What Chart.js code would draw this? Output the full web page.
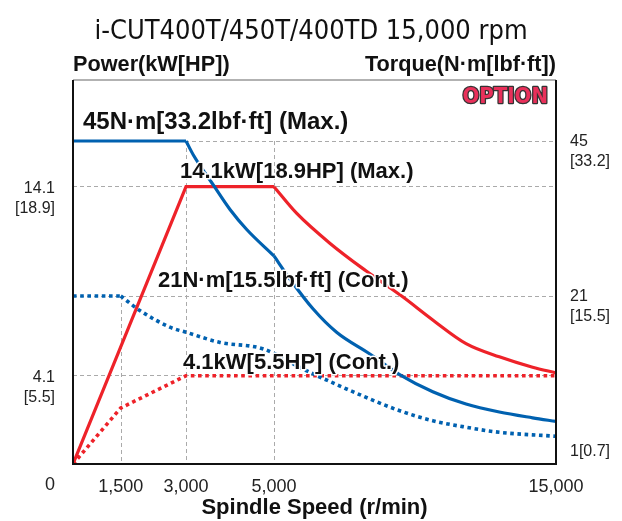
<!DOCTYPE html>
<html>
<head>
<meta charset="utf-8">
<script src="https://cdn.jsdelivr.net/npm/chart.js@4.4.1/dist/chart.umd.min.js"></script>
<style>
  html, body { margin: 0; padding: 0; background: #fff; }
  #wrap { width: 622px; height: 521px; }
</style>
</head>
<body>
<div id="wrap"><canvas id="spindleChart" width="622" height="521"></canvas></div>
<script>
// tick labels
var rpmTicks = [1500, 3000, 5000, 15000];
var powerTicks = [4.1, 14.1];
var powerTicksHp = [5.5, 18.9];
var torqueTicks = [1, 21, 45];
var torqueTicksLbf = [0.7, 15.5, 33.2];

// series
var maxTorqueRpm = [0, 3000, 3170, 3620, 4000, 4380, 5000, 5570, 6390, 7220, 8400, 9440, 10630, 11810, 12990, 14170, 15000];
var maxTorqueNm = [45, 45, 42.8, 38.2, 34.4, 31.3, 27.2, 23.6, 19.2, 16.0, 13.0, 10.2, 7.8, 6.1, 5.0, 4.2, 3.7];

var contTorqueRpm = [0, 1500, 1940, 2630, 3000, 3770, 4760, 6040, 8400, 9440, 10630, 11810, 12990, 15000];
var contTorqueNm = [21, 21, 19.0, 16.7, 16.0, 14.6, 13.7, 10.9, 6.8, 5.2, 3.8, 2.9, 2.2, 1.65];

var maxPowerRpm = [0, 3000, 5000, 5800, 6990, 8260, 9540, 10630, 11810, 12990, 14170, 15000];
var maxPowerKw = [0, 14.1, 14.1, 12.7, 11.1, 9.65, 8.3, 7.05, 5.8, 5.1, 4.55, 4.25];

var contPowerRpm = [0, 1500, 3000, 15000];
var contPowerKw = [0, 2.6, 4.1, 4.1];

var curveLabels = [
  "45N\u00B7m[33.2lbf\u00B7ft] (Max.)",
  "14.1kW[18.9HP] (Max.)",
  "21N\u00B7m[15.5lbf\u00B7ft] (Cont.)",
  "4.1kW[5.5HP] (Cont.)"
];

var RED = "#ee2229";
var BLUE = "#0061b0";
var FONT = "'Liberation Sans', Arial, sans-serif";

// the chart's axes are not linear: each one is drawn as straight pieces between stops
var axisStops = {
  x: [[0, 0], [1500, 0.0988], [3000, 0.234], [5000, 0.4161], [15000, 1]],
  yP: [[0, 0], [4.1, 0.2299], [14.1, 0.7221], [19.75, 1]],
  yT: [[0, 0], [1, 0.0599], [21, 0.4375], [45, 0.8411], [54.4, 1]]
};

class PiecewiseScale extends Chart.LinearScale {
  getPixelForValue(value) {
    var s = axisStops[this.id];
    var i = 1;
    while (i < s.length - 1 && value > s[i][0]) i++;
    var a = s[i - 1], b = s[i];
    var dec = a[1] + (value - a[0]) / (b[0] - a[0]) * (b[1] - a[1]);
    return this.getPixelForDecimal(dec);
  }
  getValueForPixel(pixel) {
    var dec = this.getDecimalForPixel(pixel);
    var s = axisStops[this.id];
    var i = 1;
    while (i < s.length - 1 && dec > s[i][1]) i++;
    var a = s[i - 1], b = s[i];
    return a[0] + (dec - a[1]) / (b[1] - a[1]) * (b[0] - a[0]);
  }
}
PiecewiseScale.id = "piecewise";
Chart.register(PiecewiseScale);

function zip(xs, ys, from, to) {
  return xs.map(function (x, i) { return { x: x, y: ys[i] }; }).slice(from, to);
}

// one curve can be several pieces: straight runs and smooth bends
function piece(label, points, axis, color, dotted, smooth) {
  return {
    label: label,
    data: points,
    yAxisID: axis,
    borderColor: color,
    borderWidth: dotted ? 3.6 : 3.2,
    borderDash: dotted ? [3.6, 3.6] : [],
    borderCapStyle: "butt",
    cubicInterpolationMode: smooth ? "monotone" : "default",
    tension: 0,
    pointRadius: 0
  };
}

// dashed grid lines for the speed ticks, starting at the torque level they mark
var gridTopTorque = [21, 45, 45, null];

var decor = {
  id: "decor",
  beforeDatasetsDraw: function (chart) {
    var c = chart.ctx, a = chart.chartArea;
    var xs = chart.scales.x, yt = chart.scales.yT;
    c.save();
    c.strokeStyle = "#aaa";
    c.lineWidth = 1;
    c.setLineDash([4, 3]);
    rpmTicks.forEach(function (v, i) {
      if (gridTopTorque[i] === null) return;
      var px = Math.round(xs.getPixelForValue(v)) + 0.5;
      c.beginPath();
      c.moveTo(px, yt.getPixelForValue(gridTopTorque[i]));
      c.lineTo(px, a.bottom);
      c.stroke();
    });
    c.restore();
  },
  afterDatasetsDraw: function (chart) {
    var c = chart.ctx, a = chart.chartArea;
    c.save();
    // frame
    c.strokeStyle = "#999";
    c.lineWidth = 1.5;
    c.beginPath();
    c.moveTo(a.left, a.top);
    c.lineTo(a.right, a.top);
    c.stroke();
    c.strokeStyle = "#111";
    c.lineWidth = 2;
    c.beginPath();
    c.moveTo(a.left, a.top);
    c.lineTo(a.left, a.bottom);
    c.lineTo(a.right, a.bottom);
    c.lineTo(a.right, a.top);
    c.stroke();

    // curve captions
    var pos = [[83, 128.5], [180, 177.5], [158, 286.5], [183, 369]];
    var sizes = [24, 22, 22, 22];
    c.textAlign = "left";
    c.textBaseline = "alphabetic";
    c.lineJoin = "round";
    curveLabels.forEach(function (t, i) {
      c.font = "bold " + sizes[i] + "px " + FONT;
      c.strokeStyle = "#fff";
      c.lineWidth = 3;
      c.strokeText(t, pos[i][0], pos[i][1]);
      c.fillStyle = "#111";
      c.fillText(t, pos[i][0], pos[i][1]);
    });

    // option badge
    c.font = "bold 22px 'DejaVu Sans Condensed', 'DejaVu Sans', sans-serif";
    c.textAlign = "right";
    c.strokeStyle = "#333";
    c.lineWidth = 2.5;
    c.strokeText("OPTION", a.right - 8, a.top + 23);
    c.fillStyle = "#e8305a";
    c.fillText("OPTION", a.right - 8, a.top + 23);
    c.restore();
  },
  afterDraw: function (chart) {
    var c = chart.ctx, a = chart.chartArea;
    c.save();
    c.fillStyle = "#111";
    c.textBaseline = "alphabetic";
    c.font = "27px 'DejaVu Sans Condensed', 'DejaVu Sans', sans-serif";
    c.textAlign = "center";
    c.fillText("i-CUT400T/450T/400TD 15,000 rpm", 311, 39);
    c.font = "bold 21.7px " + FONT;
    c.textAlign = "left";
    c.fillText("Power(kW[HP])", a.left, 71);
    c.textAlign = "right";
    c.fillText("Torque(N\u00B7m[lbf\u00B7ft])", a.right, 71);
    // origin label
    c.fillStyle = "#222";
    c.font = "18px " + FONT;
    c.textBaseline = "middle";
    c.fillText("0", 55, 485);
    c.restore();
  }
};

var ctx = document.getElementById("spindleChart").getContext("2d");

new Chart(ctx, {
  type: "line",
  data: {
    datasets: [
      piece("Torque (Max.)", zip(maxTorqueRpm, maxTorqueNm, 0, 2), "yT", BLUE, false, false),
      piece("Torque (Max.)", zip(maxTorqueRpm, maxTorqueNm, 1, 7), "yT", BLUE, false, true),
      piece("Torque (Max.)", zip(maxTorqueRpm, maxTorqueNm, 6), "yT", BLUE, false, true),
      piece("Torque (Cont.)", zip(contTorqueRpm, contTorqueNm, 0, 2), "yT", BLUE, true, false),
      piece("Torque (Cont.)", zip(contTorqueRpm, contTorqueNm, 1), "yT", BLUE, true, true),
      piece("Power (Max.)", zip(maxPowerRpm, maxPowerKw, 0, 3), "yP", RED, false, false),
      piece("Power (Max.)", zip(maxPowerRpm, maxPowerKw, 2), "yP", RED, false, true),
      piece("Power (Cont.)", zip(contPowerRpm, contPowerKw), "yP", RED, true, false)
    ]
  },
  options: {
    responsive: false,
    animation: false,
    layout: { padding: { top: 80, left: 0, right: 0, bottom: 0 } },
    plugins: {
      legend: { display: false },
      tooltip: { enabled: false }
    },
    scales: {
      x: {
        type: "piecewise",
        min: 0,
        max: 15000,
        afterBuildTicks: function (s) {
          s.ticks = rpmTicks.map(function (v) { return { value: v }; });
        },
        afterFit: function (s) { s.height = 57; },
        grid: { display: false },
        border: { display: false },
        ticks: {
          autoSkip: false,
          maxRotation: 0,
          padding: 4,
          color: "#222",
          font: { family: FONT, size: 18 },
          callback: function (v) { return v.toLocaleString("en-US"); }
        },
        title: {
          display: true,
          text: "Spindle Speed (r/min)",
          color: "#111",
          font: { family: FONT, size: 22, weight: "bold" },
          padding: { top: 0, bottom: 0 }
        }
      },
      yP: {
        type: "piecewise",
        position: "left",
        min: 0,
        max: 19.75,
        afterBuildTicks: function (s) {
          s.ticks = powerTicks.map(function (v) { return { value: v }; });
        },
        afterFit: function (s) { s.width = 73; },
        grid: { color: "#aaa", lineWidth: 1, drawTicks: false },
        border: { display: false, dash: [4, 3] },
        ticks: {
          autoSkip: false,
          padding: 18,
          labelOffset: 12,
          color: "#222",
          font: { family: FONT, size: 16, lineHeight: 1.25 },
          callback: function (v) {
            var i = powerTicks.indexOf(v);
            return [String(v), "[" + powerTicksHp[i] + "]"];
          }
        }
      },
      yT: {
        type: "piecewise",
        position: "right",
        min: 0,
        max: 54.4,
        afterBuildTicks: function (s) {
          s.ticks = torqueTicks.map(function (v) { return { value: v }; });
        },
        afterFit: function (s) { s.width = 66; },
        grid: {
          lineWidth: 1,
          drawTicks: false,
          color: function (c) { return c.tick && c.tick.value === 1 ? "rgba(0,0,0,0)" : "#aaa"; }
        },
        border: { display: false, dash: [4, 3] },
        ticks: {
          autoSkip: false,
          padding: 14,
          labelOffset: 11,
          color: "#222",
          font: { family: FONT, size: 16, lineHeight: 1.25 },
          callback: function (v) {
            var i = torqueTicks.indexOf(v);
            if (v === 1) return v + "[" + torqueTicksLbf[i] + "]";
            return [String(v), "[" + torqueTicksLbf[i] + "]"];
          }
        }
      }
    }
  },
  plugins: [decor]
});
</script>
</body>
</html>
